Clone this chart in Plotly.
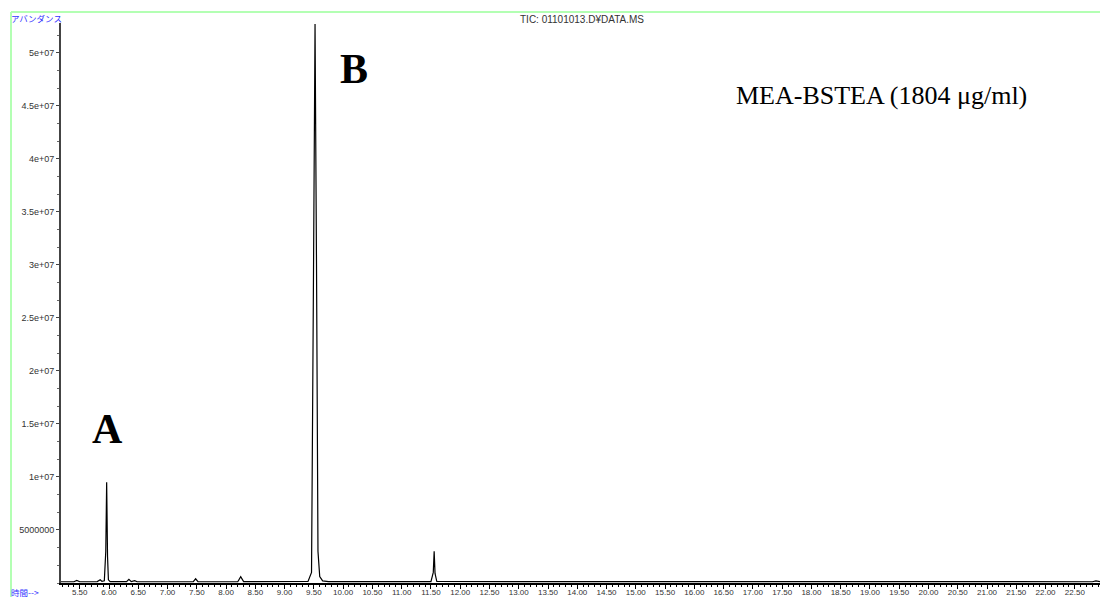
import plotly.graph_objects as go

# Retention time (min) and abundance
time_min = [5.18, 5.40, 5.45, 5.50, 5.80, 5.85, 5.88, 5.92, 5.945, 5.96, 5.975, 5.99, 6.02,
            6.30, 6.34, 6.38, 6.44, 6.48, 7.44, 7.48, 7.52, 8.20, 8.25, 8.30,
            9.40, 9.46, 9.49, 9.52, 9.545, 9.57, 9.60, 9.65, 9.75,
            11.50, 11.54, 11.555, 11.57, 11.60, 22.80, 22.86, 22.93]
abundance = [1.2e5, 1.2e5, 2.5e5, 1.2e5, 1.3e5, 3.0e5, 1.5e5, 2.0e5, 3.0e6, 9.5e6, 2.5e6, 3.0e5, 1.3e5,
             1.3e5, 3.5e5, 1.3e5, 2.2e5, 1.2e5, 1.2e5, 4.0e5, 1.2e5, 1.2e5, 6.0e5, 1.3e5,
             1.5e5, 1.0e6, 2.6e7, 5.27e7, 3.0e7, 3.0e6, 6.0e5, 2.0e5, 1.3e5,
             1.3e5, 1.0e6, 3.0e6, 9.0e5, 1.4e5, 1.2e5, 2.0e5, 1.2e5]

y_tick_vals = [5e6, 1e7, 1.5e7, 2e7, 2.5e7, 3e7, 3.5e7, 4e7, 4.5e7, 5e7]
y_tick_text = ["5000000", "1e+07", "1.5e+07", "2e+07", "2.5e+07", "3e+07",
               "3.5e+07", "4e+07", "4.5e+07", "5e+07"]

title_text = "TIC: 01101013.D¥DATA.MS"
sample_text = "MEA-BSTEA (1804 μg/ml)"
peak_labels = ["A", "B"]
peak_label_x = [5.974, 10.186]
peak_label_y = [1.452e7, 4.846e7]

fig = go.Figure()
fig.add_trace(go.Scatter(x=time_min, y=abundance, mode="lines",
                         line=dict(color="black", width=1.2), hoverinfo="skip"))

y_tick_font = dict(family="Liberation Sans, Arial", size=9, color="#333333")
x_tick_font = dict(family="Liberation Sans, Arial", size=8, color="#333333")

fig.update_layout(
    width=1100, height=597,
    margin=dict(l=61, r=0, t=23, b=14, autoexpand=False),
    paper_bgcolor="white", plot_bgcolor="white",
    showlegend=False,
    xaxis=dict(range=[5.18, 22.93], showgrid=False, zeroline=False, automargin=False,
               showline=True, linecolor="black", linewidth=1.5,
               ticks="outside", ticklen=4, tickwidth=1, tickcolor="black",
               tick0=0, dtick=0.5, tickformat=".2f", tickfont=x_tick_font,
               ticklabelstandoff=-3,
               minor=dict(ticks="outside", ticklen=2.5, dtick=0.1, tickcolor="black", tickwidth=1),
               fixedrange=True),
    yaxis=dict(range=[0, 5.28e7], showgrid=False, zeroline=False, automargin=False,
               showline=True, linecolor="#444444", linewidth=2,
               ticks="outside", ticklen=3, tickwidth=1, tickcolor="#444444",
               tickmode="array", tickvals=y_tick_vals, ticktext=y_tick_text,
               tickfont=y_tick_font,
               minor=dict(ticks="outside", ticklen=2, tick0=0, dtick=5e6 / 3,
                          tickcolor="#666666", tickwidth=1),
               fixedrange=True),
)

# green frame lines
fig.add_shape(type="line", xref="paper", yref="paper",
              x0=-50 / 1039, x1=1.0, y0=1 + 11 / 560, y1=1 + 11 / 560,
              line=dict(color="#b3ffb3", width=2))
fig.add_shape(type="line", xref="paper", yref="paper",
              x0=-50 / 1039, x1=-50 / 1039, y0=1 + 11 / 560, y1=-14 / 560,
              line=dict(color="#b3ffb3", width=2))

fig.add_annotation(text=title_text, xref="paper", yref="paper",
                   x=(582 - 61) / 1039, y=1 + 4 / 560, xanchor="center", yanchor="middle",
                   showarrow=False,
                   font=dict(family="Liberation Sans, Arial", size=10, color="#333333"))
fig.add_annotation(text="アバンダンス", xref="paper", yref="paper",
                   x=-50 / 1039, y=1 + 5 / 560, xanchor="left", yanchor="middle",
                   xshift=-2, showarrow=False,
                   font=dict(family="Noto Sans CJK JP", size=8.5, color="#3333ff"))
fig.add_annotation(text="時間-->", xref="paper", yref="paper",
                   x=-50 / 1039, y=-9 / 560, xanchor="left", yanchor="middle",
                   xshift=-2, showarrow=False,
                   font=dict(family="Noto Sans CJK JP", size=8.5, color="#3333ff"))
fig.add_annotation(text=sample_text, xref="paper", yref="paper",
                   x=(881 - 61) / 1039, y=(583 - 96) / 560, xanchor="center", yanchor="middle",
                   showarrow=False,
                   font=dict(family="Liberation Serif, Times New Roman", size=26, color="black"))
for lab, lx, ly in zip(peak_labels, peak_label_x, peak_label_y):
    fig.add_annotation(text="<b>" + lab + "</b>", x=lx, y=ly, showarrow=False,
                       xanchor="center", yanchor="middle",
                       font=dict(family="Liberation Serif, Times New Roman", size=42, color="black"))

fig.write_html("out.html")
